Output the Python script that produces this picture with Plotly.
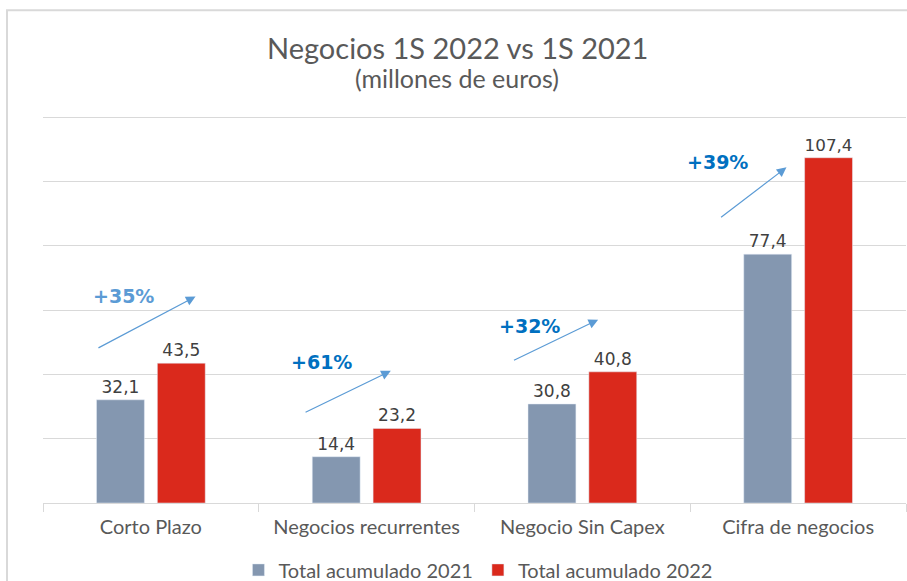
import plotly.graph_objects as go

categories = ["Corto Plazo", "Negocios recurrentes", "Negocio Sin Capex", "Cifra de negocios"]
total_2021 = [32.1, 14.4, 30.8, 77.4]
total_2022 = [43.5, 23.2, 40.8, 107.4]
growth_labels = ["+35%", "+61%", "+32%", "+39%"]
series_names = ["Total acumulado 2021", "Total acumulado 2022"]

GRAY = "#8497B0"
RED = "#DA291C"
TXT = "#595959"
GRID = "#D9D9D9"
BODY_FONT = "Lato"
LABEL_FONT = "DejaVu Sans"

fig = go.Figure()
fig.add_trace(go.Bar(
    x=categories, y=total_2021, name=series_names[0], marker_color=GRAY,
    texttemplate="%{y:.1f}", textposition="outside",
    textfont=dict(family=LABEL_FONT, size=17, color="#404040"), cliponaxis=False,
))
fig.add_trace(go.Bar(
    x=categories, y=total_2022, name=series_names[1], marker_color=RED,
    texttemplate="%{y:.1f}", textposition="outside",
    textfont=dict(family=LABEL_FONT, size=17, color="#404040"), cliponaxis=False,
))

# growth arrows (tail -> head) and label positions, in axis coordinates
arrow_tails = [(-0.25, 48.0), (0.71, 28.0), (1.676, 44.2), (2.636, 88.5)]
arrow_heads = [(0.207, 64.2), (1.112, 41.1), (2.073, 57.0), (2.946, 104.4)]
label_pos = [(-0.126, 64.5), (0.789, 43.9), (1.754, 55.1), (2.627, 106.2)]
label_colors = ["#5B9BD5", "#0070C0", "#0070C0", "#0070C0"]

annotations = []
for (tx, ty), (hx, hy) in zip(arrow_tails, arrow_heads):
    annotations.append(dict(
        x=hx, y=hy, ax=tx, ay=ty, xref="x", yref="y", axref="x", ayref="y",
        text="", showarrow=True, arrowhead=2, arrowsize=1.6, arrowwidth=1.2,
        arrowcolor="#5B9BD5",
    ))
for (lx, ly), txt, col in zip(label_pos, growth_labels, label_colors):
    annotations.append(dict(
        x=lx, y=ly, xref="x", yref="y", text=f"<b>{txt}</b>", showarrow=False,
        font=dict(family=LABEL_FONT, size=19, color=col),
    ))
annotations.append(dict(
    x=0.48, y=1.172, xref="paper", yref="paper", xanchor="center", yanchor="middle",
    text="Negocios 1S 2022 vs 1S 2021",
    showarrow=False, font=dict(family=BODY_FONT, size=29, color=TXT),
))
annotations.append(dict(
    x=0.48, y=1.093, xref="paper", yref="paper", xanchor="center", yanchor="middle",
    text="(millones de euros)",
    showarrow=False, font=dict(family=BODY_FONT, size=25, color=TXT),
))

fig.update_layout(
    width=907, height=581,
    margin=dict(l=43, r=1, t=114, b=78, autoexpand=False),
    paper_bgcolor="white", plot_bgcolor="white",
    separators=",.",
    barmode="group", bargap=0.436, bargroupgap=0.213,
    showlegend=True,
    legend=dict(orientation="h", x=0.504, xanchor="center", y=-0.172, yanchor="middle",
                font=dict(family=BODY_FONT, size=20, color=TXT), itemwidth=30,
                traceorder="normal"),
    annotations=annotations,
    shapes=[dict(type="rect", xref="paper", yref="paper", x0=-0.0417, x1=1.05,
                 y0=-0.25, y1=1.267, line=dict(color=GRID, width=2), layer="below")],
)
fig.update_yaxes(range=[0, 121], dtick=20, showticklabels=False, showgrid=True,
                 gridcolor=GRID, gridwidth=1, zeroline=False, fixedrange=True)
fig.update_xaxes(showline=True, linecolor=GRID, linewidth=1, ticks="outside",
                 tickson="boundaries", ticklen=8, tickcolor=GRID, ticklabelstandoff=6,
                 tickfont=dict(family=BODY_FONT, size=20, color=TXT))

fig.write_html("out.html", config={"displayModeBar": False},
               post_script="document.body.style.margin='0';")
